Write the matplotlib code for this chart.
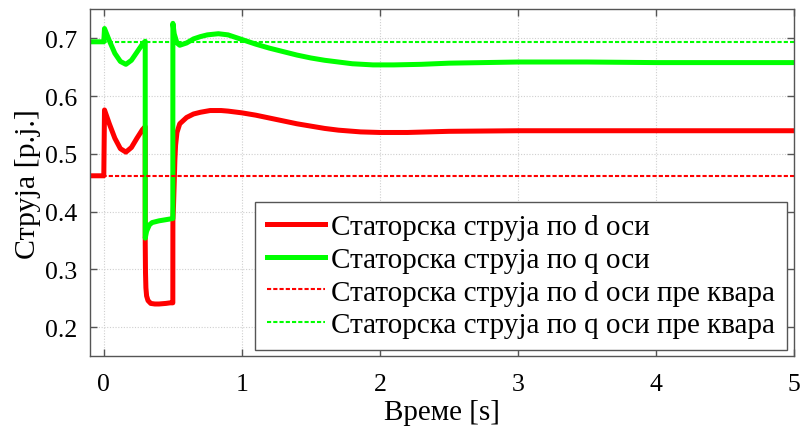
import matplotlib
matplotlib.use("Agg")
import matplotlib.pyplot as plt

plt.rcParams['font.family'] = ['Liberation Serif', 'DejaVu Serif']

# Stator current, d axis [p.u.]
t_d = [-0.1, 0.0, 0.005, 0.04, 0.08, 0.12, 0.16, 0.20, 0.24, 0.28, 0.30,
       0.3001, 0.302, 0.305, 0.31, 0.32, 0.34, 0.37, 0.40, 0.45, 0.48, 0.50,
       0.5005, 0.505, 0.51, 0.515, 0.52, 0.53, 0.55, 0.60, 0.65, 0.70, 0.77, 0.85,
       0.90, 1.0, 1.1, 1.2, 1.3, 1.4, 1.5, 1.6, 1.7, 1.86, 2.0, 2.2, 2.5, 3.0,
       3.5, 4.0, 4.5, 5.0]
i_d = [0.462, 0.462, 0.576, 0.552, 0.527, 0.509, 0.503, 0.511, 0.527, 0.542, 0.547,
       0.345, 0.295, 0.268, 0.254, 0.246, 0.241, 0.240, 0.240, 0.241, 0.242, 0.242,
       0.384, 0.41, 0.45, 0.49, 0.515, 0.537, 0.552, 0.563, 0.569, 0.572, 0.575, 0.575,
       0.574, 0.571, 0.567, 0.562, 0.557, 0.552, 0.548, 0.544, 0.541, 0.538, 0.537, 0.537,
       0.539, 0.540, 0.540, 0.540, 0.540, 0.540]

# Stator current, q axis [p.u.]
t_q = [-0.1, 0.0, 0.005, 0.04, 0.08, 0.12, 0.16, 0.20, 0.24, 0.28, 0.30,
       0.3001, 0.31, 0.33, 0.35, 0.40, 0.45, 0.50,
       0.5005, 0.51, 0.53, 0.55, 0.60, 0.65, 0.70, 0.75, 0.83, 0.90,
       1.0, 1.1, 1.2, 1.3, 1.4, 1.5, 1.6, 1.7, 1.8, 1.95, 2.1, 2.3, 2.5, 3.0,
       3.5, 4.0, 4.5, 5.0]
i_q = [0.694, 0.694, 0.717, 0.696, 0.674, 0.660, 0.655, 0.662, 0.676, 0.690, 0.695,
       0.354, 0.366, 0.377, 0.381, 0.384, 0.386, 0.388,
       0.726, 0.708, 0.692, 0.688, 0.692, 0.699, 0.703, 0.706, 0.708, 0.706,
       0.698, 0.690, 0.683, 0.677, 0.671, 0.666, 0.662, 0.659, 0.656, 0.654, 0.654, 0.655,
       0.657, 0.659, 0.659, 0.658, 0.658, 0.658]

# Pre-fault levels
pre_d = 0.462
pre_q = 0.694

labels = ["Статорска струја по d оси",
          "Статорска струја по q оси",
          "Статорска струја по d оси пре квара",
          "Статорска струја по q оси пре квара"]

fig = plt.figure(figsize=(8.0, 4.27), dpi=100)
ax = fig.add_axes([0.1125, 0.164, 0.88, 0.8115])

red = "#ff0000"
green = "#00ff00"
ax.plot(t_d, i_d, color=red, lw=3.6, label=labels[0], solid_joinstyle='round')
ax.plot(t_q, i_q, color=green, lw=3.6, label=labels[1], solid_joinstyle='round')
ax.plot([-0.1, 5.0], [pre_d, pre_d], color=red, lw=1.5, ls=(0, (2, 1)), label=labels[2])
ax.plot([-0.1, 5.0], [pre_q, pre_q], color=green, lw=1.5, ls=(0, (2, 1)), label=labels[3])

ax.set_xlim(-0.1, 5.0)
ax.set_ylim(0.15, 0.75)
ax.set_xticks([0, 1, 2, 3, 4, 5])
ax.set_yticks([0.2, 0.3, 0.4, 0.5, 0.6, 0.7])
ax.set_xticklabels(["0", "1", "2", "3", "4", "5"])
ax.set_yticklabels(["0.2", "0.3", "0.4", "0.5", "0.6", "0.7"])

frame = "#555555"
for s in ax.spines.values():
    s.set_color(frame)
    s.set_linewidth(1.0)
ax.tick_params(direction='in', length=5, width=1.0, color=frame,
               top=True, right=True, labelsize=18.5)
ax.tick_params(axis='x', pad=12)
ax.tick_params(axis='y', pad=9)
ax.grid(True, color="#cfcfcf", ls=(0, (1, 1.5)), lw=0.8)
ax.set_axisbelow(True)

ax.set_xlabel("Време [s]", fontsize=21, labelpad=3)
ax.set_ylabel("Струја [p.j.]", fontsize=21.5, labelpad=3)

leg = ax.legend(loc='lower right', bbox_to_anchor=(0.99, 0.017), borderaxespad=0,
                fontsize=21, fancybox=False, framealpha=1, edgecolor=frame,
                handlelength=2.0, handletextpad=0.2, labelspacing=0.22,
                borderpad=0.4)
leg.get_frame().set_linewidth(1.0)

fig.savefig("out.png", dpi=100)
